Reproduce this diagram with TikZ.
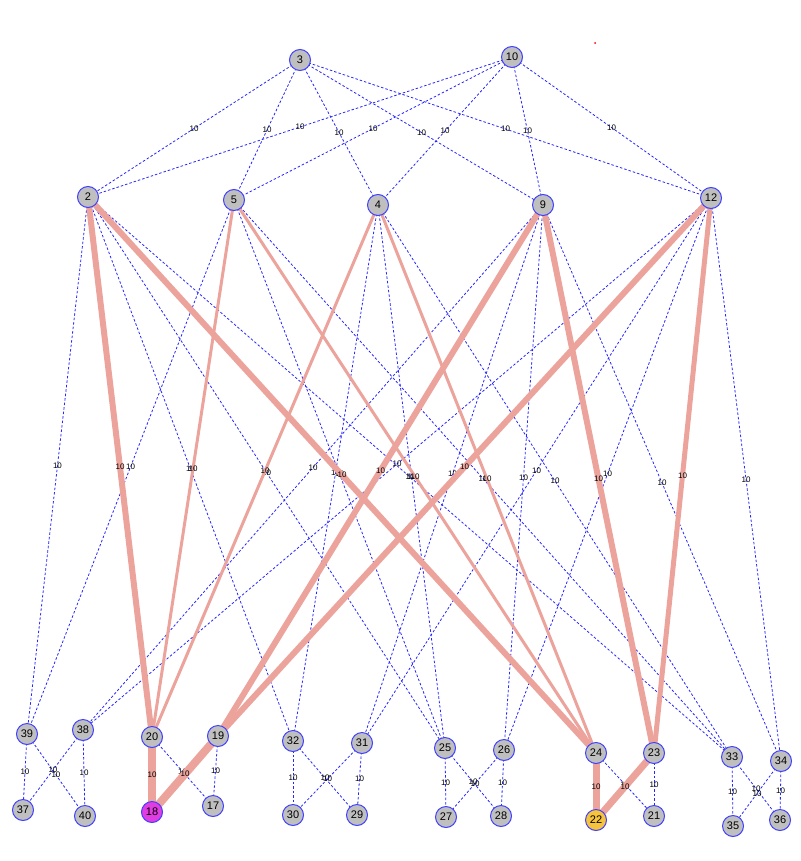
\documentclass[tikz,border=0pt]{standalone}
\usepackage{fontspec}
\setmainfont{Liberation Sans}
\begin{document}
\begin{tikzpicture}[x=1pt,y=-1pt,
  v/.style={circle,draw=blue!75!white,fill=gray!50,line width=1pt,minimum size=21pt,inner sep=0pt,font=\fontsize{11}{11}\selectfont},
  d/.style={draw=blue!85!white,line width=0.8pt,dash pattern=on 2.5pt off 2pt},
  t/.style={draw={rgb,255:red,235;green,163;blue,156},line width=#1},
  lb/.style={font=\fontsize{8}{8}\selectfont,inner sep=0pt}]
\useasboundingbox (0,0) rectangle (800,861);
\fill[red] (595,43) circle (1pt);
\foreach \n/\x/\y in {3/300/60,10/512/57,2/88/197,5/234/200,4/378/205,9/543/205,12/711/198,
 39/27/734,38/83/730,20/152/737,19/218/736,32/293/741,31/362/743,25/445/748,26/504/750,24/596/753,23/654/753,33/732/757,34/781/761,
 37/23/810,40/85/816,18/152/812,17/213/806,30/293/815,29/357/815,27/446/817,28/501/816,22/596/820,21/654/816,35/733/826,36/780/820}
 \coordinate (c\n) at (\x,\y);
% dashed edges
\foreach \a/\b in {3/2,3/5,3/4,3/9,3/12,10/2,10/5,10/4,10/9,10/12,
 2/39,5/39,9/38,12/38,2/32,4/32,9/31,12/31,2/25,4/25,5/25,9/26,12/26,2/33,4/33,5/33,9/34,12/34,
 39/37,39/40,38/37,38/40,20/17,19/17,32/30,32/29,31/30,31/29,25/27,25/28,26/27,26/28,24/21,23/21,33/35,33/36,34/35,34/36}
 \path[d] (c\a) -- node[lb]{10} (c\b);
% thick edges
\foreach \a/\b/\w in {2/20/6pt,2/24/6pt,5/20/3pt,5/24/3pt,4/20/3pt,4/24/3pt,9/19/6pt,9/23/6pt,12/19/6pt,12/23/5pt,20/18/8pt,19/18/8pt,24/22/7pt,23/22/7pt}
 \path[t=\w] (c\a) -- node[lb]{10} (c\b);
\foreach \n in {3,10,2,5,4,9,12,39,38,20,19,32,31,25,26,24,23,33,34,37,40,17,30,29,27,28,21,35,36}
 \node[v] (n\n) at (c\n) {\n};
\node[v,fill={rgb,255:red,225;green,60;blue,225}] (n18) at (c18) {18};
\node[v,fill={rgb,255:red,245;green,195;blue,60}] (n22) at (c22) {22};
\end{tikzpicture}
\end{document}
